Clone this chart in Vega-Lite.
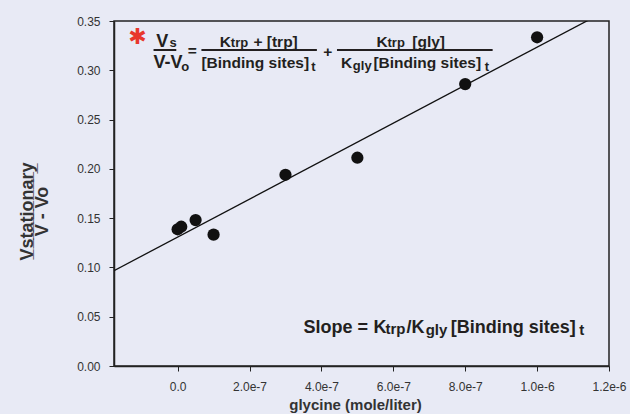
{
  "$schema": "https://vega.github.io/schema/vega-lite/v6.json",
  "width": 495,
  "height": 345,
  "autosize": "none",
  "padding": {"left": 114, "top": 21, "right": 21, "bottom": 48},
  "background": "#e8eaf5",
  "config": {
    "view": {"stroke": "#222222", "strokeWidth": 1.5},
    "font": "Liberation Sans"
  },
  "datasets": {
    "points": [
      {"x": 0, "y": 0.1387},
      {"x": 1e-8, "y": 0.1413},
      {"x": 5e-8, "y": 0.148},
      {"x": 1e-7, "y": 0.1332},
      {"x": 3e-7, "y": 0.194},
      {"x": 5e-7, "y": 0.2113},
      {"x": 8e-7, "y": 0.286},
      {"x": 1e-6, "y": 0.3335}
    ],
    "fit": [
      {"x": -1.77e-7, "y": 0.0967},
      {"x": 1.2e-6, "y": 0.3619}
    ],
    "bars": [
      {"x": -6.70e-8, "x2": -3.71e-9, "y": 0.3206},
      {"x": 6.62e-8, "x2": 3.874e-7, "y": 0.3206},
      {"x": 4.433e-7, "x2": 8.763e-7, "y": 0.3206}
    ],
    "star": [{"t": "✱", "x": -1.117e-7, "y": 0.3333}],
    "big": [
      {"t": "V", "x": -5.95e-8, "y": 0.3239},
      {"t": "V-V", "x": -6.70e-8, "y": 0.3020},
      {"t": "Slope =", "x": 3.500e-7, "y": 0.0332},
      {"t": "K", "x": 5.447e-7, "y": 0.0332},
      {"t": "/K", "x": 6.369e-7, "y": 0.0332},
      {"t": "[Binding sites]", "x": 7.598e-7, "y": 0.0332}
    ],
    "main": [
      {"t": "=", "x": 2.79e-8, "y": 0.3145},
      {"t": "K", "x": 1.173e-7, "y": 0.3239},
      {"t": "+ [trp]", "x": 2.109e-7, "y": 0.3239},
      {"t": "[Binding sites]", "x": 6.62e-8, "y": 0.3020},
      {"t": "+", "x": 4.050e-7, "y": 0.3132},
      {"t": "K", "x": 5.531e-7, "y": 0.3239},
      {"t": "[gly]", "x": 6.528e-7, "y": 0.3239},
      {"t": "K", "x": 4.545e-7, "y": 0.3020},
      {"t": "[Binding sites]", "x": 5.447e-7, "y": 0.3020}
    ],
    "sub": [
      {"t": "s", "x": -2.23e-8, "y": 0.3239},
      {"t": "o", "x": 9.8e-9, "y": 0.2996},
      {"t": "trp", "x": 1.480e-7, "y": 0.3239},
      {"t": "t", "x": 3.715e-7, "y": 0.2996},
      {"t": "trp", "x": 5.838e-7, "y": 0.3239},
      {"t": "gly", "x": 4.874e-7, "y": 0.3003},
      {"t": "t", "x": 8.547e-7, "y": 0.2996}
    ],
    "subslope": [
      {"t": "trp", "x": 5.782e-7, "y": 0.0320},
      {"t": "gly", "x": 6.899e-7, "y": 0.0315},
      {"t": "t", "x": 1.1173e-6, "y": 0.0315}
    ]
  },
  "encoding": {
    "x": {
      "field": "x",
      "type": "quantitative",
      "scale": {"domain": [-1.77e-7, 1.2e-6], "nice": false, "zero": false},
      "axis": {
        "values": [0, 2e-7, 4e-7, 6e-7, 8e-7, 1e-6, 1.2e-6],
        "labelExpr": "datum.value == 0 ? '0.0' : format(datum.value, '.1e')",
        "grid": false,
        "tickSize": 5,
        "tickColor": "#222222",
        "domainColor": "#222222",
        "domainWidth": 1.5,
        "labelFontSize": 12,
        "labelColor": "#333333",
        "labelPadding": 10,
        "labelFlush": false,
        "labelOverlap": false,
        "title": "glycine (mole/liter)",
        "titleFontSize": 15,
        "titleFontWeight": "bold",
        "titleColor": "#333333",
        "titlePadding": 5,
        "titleX": 241
      }
    },
    "y": {
      "field": "y",
      "type": "quantitative",
      "scale": {"domain": [0, 0.35], "nice": false, "zero": false},
      "axis": {
        "values": [0, 0.05, 0.1, 0.15, 0.2, 0.25, 0.3, 0.35],
        "format": ".2f",
        "grid": false,
        "tickSize": 5,
        "tickColor": "#222222",
        "domainColor": "#222222",
        "domainWidth": 1.5,
        "labelFontSize": 12,
        "labelColor": "#333333",
        "labelPadding": 9,
        "labelFlush": false,
        "labelOverlap": false,
        "title": ["V\u0332s\u0332t\u0332a\u0332t\u0332i\u0332o\u0332n\u0332a\u0332r\u0332y\u0332", "V - Vo"],
        "titleFontSize": 18,
        "titleFontWeight": "bold",
        "titleColor": "#333333",
        "titleBaseline": "alphabetic",
        "titleAlign": "center",
        "titleLineHeight": 15.5,
        "titleX": -82,
        "titleY": 190
      }
    }
  },
  "layer": [
    {
      "data": {"values": [{}]},
      "mark": {
        "type": "rect",
        "fill": {
          "gradient": "linear",
          "x1": 0, "y1": 0, "x2": 0, "y2": 1,
          "stops": [
            {"offset": 0, "color": "#dcebcb"},
            {"offset": 1, "color": "#fbfcf7"}
          ]
        }
      },
      "encoding": {
        "x": {"datum": -1.77e-7, "type": "quantitative"},
        "x2": {"datum": 1.2e-6},
        "y": {"datum": 0, "type": "quantitative"},
        "y2": {"datum": 0.35}
      }
    },
    {
      "data": {"name": "fit"},
      "mark": {"type": "line", "color": "#111111", "strokeWidth": 1.3, "clip": true}
    },
    {
      "data": {"name": "points"},
      "mark": {"type": "circle", "size": 150, "color": "#111111", "opacity": 1}
    },
    {
      "data": {"name": "bars"},
      "mark": {"type": "rule", "color": "#231f20", "strokeWidth": 2},
      "encoding": {"x2": {"field": "x2"}}
    },
    {
      "data": {"name": "star"},
      "mark": {"type": "text", "font": "DejaVu Sans", "fontSize": 22, "color": "#e8372c", "align": "center", "baseline": "middle"},
      "encoding": {"text": {"field": "t"}}
    },
    {
      "data": {"name": "big"},
      "mark": {"type": "text", "fontSize": 18, "fontWeight": "bold", "color": "#231f20", "align": "left", "baseline": "alphabetic"},
      "encoding": {"text": {"field": "t"}}
    },
    {
      "data": {"name": "main"},
      "mark": {"type": "text", "fontSize": 15.5, "fontWeight": "bold", "color": "#231f20", "align": "left", "baseline": "alphabetic"},
      "encoding": {"text": {"field": "t"}}
    },
    {
      "data": {"name": "sub"},
      "mark": {"type": "text", "fontSize": 13, "fontWeight": "bold", "color": "#231f20", "align": "left", "baseline": "alphabetic"},
      "encoding": {"text": {"field": "t"}}
    },
    {
      "data": {"name": "subslope"},
      "mark": {"type": "text", "fontSize": 15, "fontWeight": "bold", "color": "#231f20", "align": "left", "baseline": "alphabetic"},
      "encoding": {"text": {"field": "t"}}
    }
  ]
}
